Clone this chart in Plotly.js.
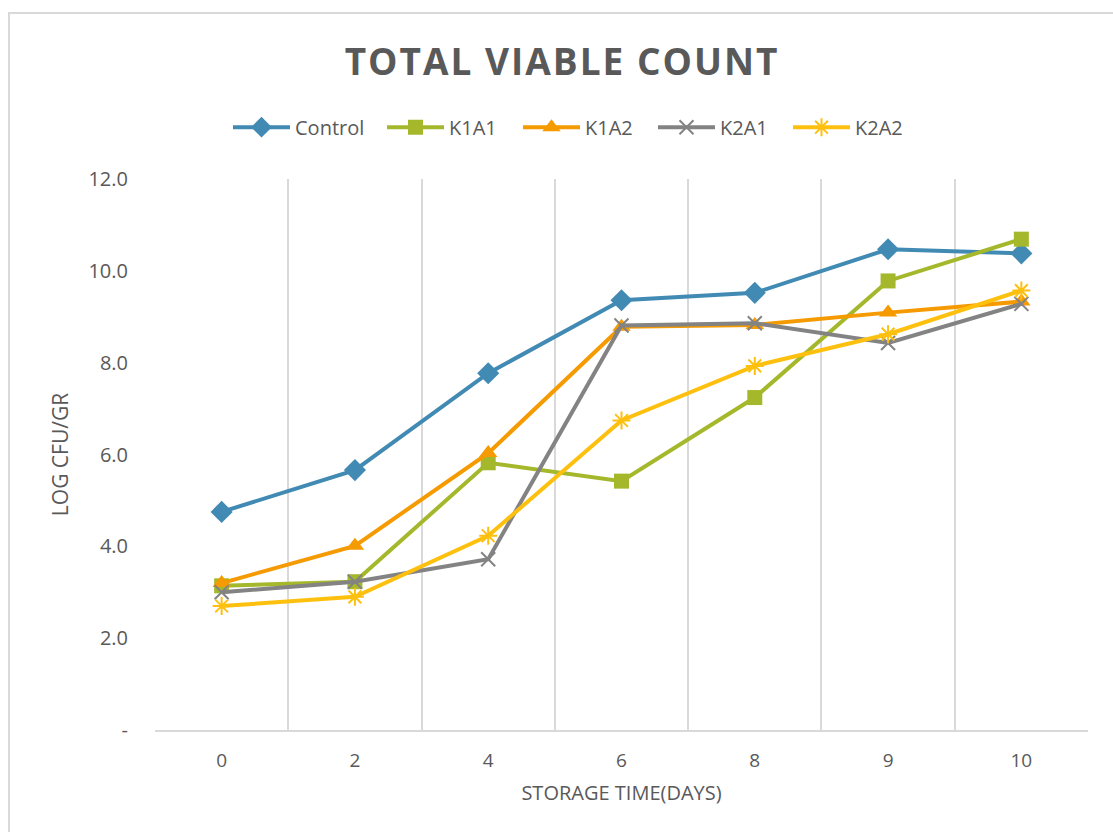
<!DOCTYPE html>
<html>
<head>
<meta charset="utf-8">
<script src="https://cdn.plot.ly/plotly-3.0.1.min.js"></script>
<style>
  html, body { margin: 0; padding: 0; background: #ffffff; overflow: hidden; }
  #frame { position: absolute; left: 8px; top: 12px; width: 1200px; height: 900px;
           border: 2px solid #D9D9D9; box-sizing: border-box; }
  #chart { position: absolute; left: 0; top: 0; width: 1113px; height: 832px; }
  #chart .gtitle { letter-spacing: 2px; }
</style>
</head>
<body>
<div id="frame"></div>
<div id="chart"></div>
<script>
// Storage days (category axis) and log CFU/gr counts per treatment
const days = ["0", "2", "4", "6", "8", "9", "10"];
const control = [4.75, 5.66, 7.77, 9.36, 9.52, 10.47, 10.38];
const k1a1 = [3.14, 3.23, 5.82, 5.42, 7.24, 9.78, 10.69];
const k1a2 = [3.20, 4.01, 6.03, 8.78, 8.82, 9.09, 9.33];
const k2a1 = [3.00, 3.23, 3.72, 8.81, 8.86, 8.43, 9.28];
const k2a2 = [2.70, 2.90, 4.23, 6.74, 7.93, 8.62, 9.57];

const yTickVals = [0, 2, 4, 6, 8, 10, 12];
const yTickText = ["-", "2.0", "4.0", "6.0", "8.0", "10.0", "12.0"];

const textColor = "#595959";
const font = "Open Sans, Noto Sans, sans-serif";

// plot area spans 155px..1088px horizontally
const plotLeft = 155, plotWidth = 933;
// left edge (px) of each legend entry along the top row
const legendLefts = [228, 382, 518, 653, 788];
const legendIds = ["legend", "legend2", "legend3", "legend4", "legend5"];

function series(i, name, y, color, symbol, size, open) {
  const marker = { symbol: symbol, size: size, color: color };
  if (open) marker.line = { color: color, width: 2 };
  return {
    type: "scatter", mode: "lines+markers", name: name,
    x: days, y: y,
    legend: legendIds[i],
    line: { color: color, width: 4 },
    marker: marker
  };
}

const traces = [
  series(0, "Control", control, "#418AB3", "diamond", 17, false),
  series(1, "K1A1", k1a1, "#A5B82C", "square", 15, false),
  series(2, "K1A2", k1a2, "#F59A00", "triangle-up", 16, false),
  series(3, "K2A1", k2a1, "#838383", "x-thin-open", 14, true),
  series(4, "K2A2", k2a2, "#FEC00F", "asterisk-open", 15, true)
];

const layout = {
  width: 1113, height: 832,
  paper_bgcolor: "rgba(0,0,0,0)",
  plot_bgcolor: "rgba(0,0,0,0)",
  margin: { l: 155, r: 25, t: 179, b: 102 },
  font: { family: font, color: textColor },
  title: {
    text: "TOTAL VIABLE COUNT",
    font: { family: font, size: 37, color: textColor, weight: 700 },
    x: 0.505, xanchor: "center",
    y: 1 - 62 / 832, yanchor: "middle", yref: "container"
  },
  showlegend: true,
  xaxis: {
    type: "category",
    range: [-0.5, 6.5],
    tickson: "boundaries",
    ticks: "",
    showgrid: true, gridcolor: "#D9D9D9", gridwidth: 2,
    showline: true, linecolor: "#D9D9D9", linewidth: 2,
    zeroline: false,
    tickfont: { family: font, size: 19, color: textColor },
    ticklabelstandoff: 12,
    title: {
      text: "STORAGE TIME(DAYS)",
      font: { family: font, size: 20, color: textColor },
      standoff: 14
    },
    fixedrange: true
  },
  yaxis: {
    range: [0, 12],
    tickvals: yTickVals, ticktext: yTickText,
    showgrid: false, zeroline: false, showline: false, ticks: "",
    tickfont: { family: font, size: 20, color: textColor },
    ticklabelstandoff: 26,
    title: {
      text: "LOG CFU/GR",
      font: { family: font, size: 21, color: textColor },
      standoff: 14
    },
    fixedrange: true
  }
};

legendIds.forEach(function (id, i) {
  layout[id] = {
    orientation: "h",
    x: (legendLefts[i] - plotLeft) / plotWidth, xanchor: "left",
    y: 1.094, yanchor: "middle",
    font: { family: font, size: 20, color: textColor },
    itemwidth: 57,
    bgcolor: "rgba(0,0,0,0)"
  };
});

Plotly.newPlot("chart", traces, layout, { displayModeBar: false, staticPlot: true });
</script>
</body>
</html>
